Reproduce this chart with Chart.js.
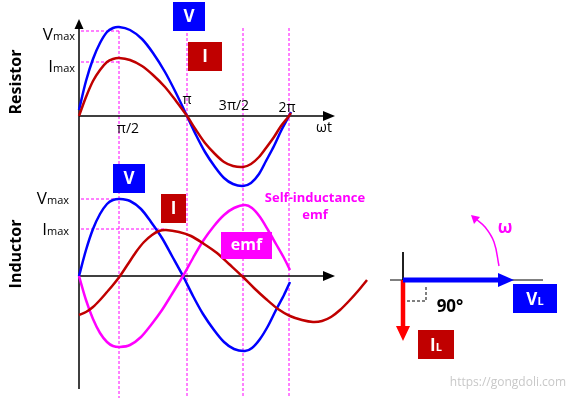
<!DOCTYPE html>
<html>
<head>
<meta charset="utf-8">
<script src="https://cdn.jsdelivr.net/npm/chart.js@4.4.1/dist/chart.umd.min.js"></script>
<style>
  html, body { margin: 0; padding: 0; background: #fff; overflow: hidden; }
  canvas { display: block; }
</style>
</head>
<body>
<canvas id="chart" width="567" height="398"></canvas>
<script>
// horizontal position along the ωt axis, and height above the axis line
const resistorX = [79, 86, 93, 100, 107, 113, 119, 130, 142, 153, 165, 176, 187, 196, 205, 215, 224, 233, 243, 251, 259, 266, 274, 281, 289, 291];
const resistorV = [6, 35, 57, 73, 84, 88, 89, 86, 77, 63, 44, 23, 0, -19, -36, -51, -62, -68, -70, -67, -58, -45, -30, -15, 0, 4];
const resistorI = [0, 19, 35, 46, 54, 57, 58, 56, 50, 41, 29, 15, 0, -14, -27, -38, -46, -50, -51, -48, -41, -32, -21, -10, 0, 3];

const inductorX = [79, 86, 93, 100, 107, 113, 120, 130, 141, 151, 162, 172, 183, 193, 203, 214, 224, 234, 245, 252, 260, 268, 276, 284, 290];
const inductorV = [0, 26, 47, 62, 72, 76, 77, 75, 67, 54, 38, 20, 0, -20, -38, -54, -66, -73, -75, -72, -63, -50, -34, -19, -6];
const inductorEmf = [0, -24, -43, -57, -66, -70, -71, -69, -61, -49, -34, -18, 0, 18, 35, 50, 61, 68, 71, 68, 59, 46, 32, 18, 6];

const inductorIX = [79, 86, 93, 100, 107, 113, 120, 128, 136, 144, 152, 159, 166, 179, 191, 204, 217, 229, 242, 254, 266, 278, 290, 302, 313, 322, 331, 340, 349, 358, 367];
const inductorI = [-39, -36, -31, -24, -16, -9, 0, 12, 24, 34, 41, 45, 46, 44, 40, 32, 23, 12, 0, -12, -23, -33, -40, -44, -46, -45, -41, -34, -25, -15, -4];

const phaseLabels = ['π/2', 'π', '3π/2', '2π'];
const phaseLineX = [119, 187, 243, 289];

const BLUE = '#0000ff';
const DARKRED = '#c00000';
const MAGENTA = '#ff00ff';
const FONT = "'Open Sans', 'Noto Sans', sans-serif";

function pts(xs, ys) {
  return xs.map((x, i) => ({ x: x, y: ys[i] }));
}

function wave(xs, ys, color, axis) {
  return {
    data: pts(xs, ys), yAxisID: axis, borderColor: color, borderWidth: 2.5,
    pointRadius: 0, showLine: true, tension: 0.3, order: 1
  };
}

function seg(points, color, width, dash, order) {
  return {
    data: points, yAxisID: 'y', borderColor: color, borderWidth: width,
    borderDash: dash || [], pointRadius: 0, showLine: true, tension: 0, order: order
  };
}

const datasets = [];

// dashed guide lines
phaseLineX.forEach((x, i) => {
  datasets.push(seg([{ x: x, y: i === 0 ? 31 : 28 }, { x: x, y: 398 }], MAGENTA, 1, [3, 2], 4));
});
datasets.push(seg([{ x: 81, y: 31 }, { x: 119, y: 31 }], MAGENTA, 1, [3, 2], 4));
datasets.push(seg([{ x: 81, y: 62 }, { x: 119, y: 62 }], MAGENTA, 1, [3, 2], 4));
datasets.push(seg([{ x: 81, y: 199 }, { x: 124, y: 199 }], MAGENTA, 1, [3, 2], 4));
datasets.push(seg([{ x: 81, y: 229 }, { x: 166, y: 229 }], MAGENTA, 1, [3, 2], 4));

// axes
datasets.push(seg([{ x: 79, y: 24 }, { x: 79, y: 389 }], '#000', 1.5, null, 3));
datasets.push(seg([{ x: 79, y: 116 }, { x: 326, y: 116 }], '#000', 1.5, null, 3));
datasets.push(seg([{ x: 79, y: 276 }, { x: 326, y: 276 }], '#000', 1.5, null, 3));

// waves
datasets.push(wave(resistorX, resistorI, DARKRED, 'yR'));
datasets.push(wave(resistorX, resistorV, BLUE, 'yR'));
datasets.push(wave(inductorIX, inductorI, DARKRED, 'yL'));
datasets.push(wave(inductorX, inductorEmf, MAGENTA, 'yL'));
datasets.push(wave(inductorX, inductorV, BLUE, 'yL'));

// phasor diagram
datasets.push(seg([{ x: 403, y: 252 }, { x: 403, y: 280 }], '#000', 1, null, 3));
datasets.push(seg([{ x: 390, y: 280 }, { x: 543, y: 280 }], '#000', 1, null, 3));
datasets.push(seg([{ x: 407, y: 301 }, { x: 426, y: 301 }, { x: 426, y: 286 }], '#000', 1, [3, 2], 3));
datasets.push(seg([{ x: 403, y: 280 }, { x: 500, y: 280 }], BLUE, 5, null, 1));
datasets.push(seg([{ x: 403, y: 280 }, { x: 403, y: 328 }], '#ff0000', 4.5, null, 1));
datasets.push(Object.assign(seg([{ x: 499, y: 266 }, { x: 494, y: 242 }, { x: 485, y: 227 }, { x: 476, y: 219 }], MAGENTA, 1.5, null, 1), { tension: 0.4 }));

const overlay = {
  id: 'overlay',
  afterDatasetsDraw(chart) {
    const ctx = chart.ctx;
    const X = v => chart.scales.x.getPixelForValue(v);
    const Y = v => chart.scales.y.getPixelForValue(v);

    function tri(a, b, c, color) {
      ctx.fillStyle = color;
      ctx.beginPath();
      ctx.moveTo(X(a[0]), Y(a[1]));
      ctx.lineTo(X(b[0]), Y(b[1]));
      ctx.lineTo(X(c[0]), Y(c[1]));
      ctx.closePath();
      ctx.fill();
    }
    function box(x0, y0, x1, y1, color) {
      ctx.fillStyle = color;
      ctx.fillRect(X(x0), Y(y0), X(x1) - X(x0), Y(y1) - Y(y0));
    }
    function text(str, x, y, font, color, align, base) {
      ctx.font = font;
      ctx.fillStyle = color;
      ctx.textAlign = align || 'center';
      ctx.textBaseline = base || 'middle';
      ctx.fillText(str, X(x), Y(y));
    }
    // big letter with small suffix, right aligned or centred
    function sub(big, small, x, y, bigFont, smallFont, color, align) {
      ctx.font = bigFont;
      const w1 = ctx.measureText(big).width;
      ctx.font = smallFont;
      const w2 = ctx.measureText(small).width;
      const left = align === 'right' ? X(x) - w1 - w2 : X(x) - (w1 + w2) / 2;
      ctx.fillStyle = color;
      ctx.textBaseline = 'alphabetic';
      ctx.textAlign = 'left';
      ctx.font = bigFont;
      ctx.fillText(big, left, Y(y));
      ctx.font = smallFont;
      ctx.fillText(small, left + w1, Y(y));
    }

    ctx.save();
    // axis arrowheads
    tri([79, 19], [74.5, 29], [83.5, 29], '#000');
    tri([335, 116], [323, 111], [323, 121], '#000');
    tri([335, 276], [323, 271], [323, 281], '#000');
    // phasor arrowheads
    tri([514, 280], [498, 273], [498, 287], BLUE);
    tri([403, 341], [396, 326], [410, 326], '#ff0000');
    tri([471, 215], [474, 224], [480, 217], MAGENTA);

    // panel titles
    ctx.save();
    ctx.translate(X(16), Y(82));
    ctx.rotate(-Math.PI / 2);
    ctx.font = 'bold 16px ' + FONT;
    ctx.fillStyle = '#000';
    ctx.textAlign = 'center';
    ctx.textBaseline = 'middle';
    ctx.fillText('Resistor', 0, 0);
    ctx.restore();
    ctx.save();
    ctx.translate(X(16), Y(254));
    ctx.rotate(-Math.PI / 2);
    ctx.font = 'bold 16px ' + FONT;
    ctx.fillStyle = '#000';
    ctx.textAlign = 'center';
    ctx.textBaseline = 'middle';
    ctx.fillText('Inductor', 0, 0);
    ctx.restore();

    // amplitude labels
    const big = '17px ' + FONT, small = '11px ' + FONT;
    sub('V', 'max', 75, 40, big, small, '#000', 'right');
    sub('I', 'max', 75, 72, big, small, '#000', 'right');
    sub('V', 'max', 69, 204, big, small, '#000', 'right');
    sub('I', 'max', 69, 235, big, small, '#000', 'right');

    // phase tick labels
    const tf = '14px ' + FONT;
    text(phaseLabels[0], 128, 129, tf, '#000');
    text(phaseLabels[1], 187, 100, tf, '#000');
    text(phaseLabels[2], 234, 106, tf, '#000');
    text(phaseLabels[3], 287, 108, tf, '#000');
    text('ωt', 324, 128, tf, '#000');

    // series tags
    const bf = 'bold 17px ' + FONT;
    box(173, 2, 205, 31, BLUE); text('V', 189, 17, bf, '#fff');
    box(188, 42, 222, 71, DARKRED); text('I', 205, 57, bf, '#fff');
    box(113, 164, 145, 193, BLUE); text('V', 129, 179, bf, '#fff');
    box(161, 194, 186, 223, DARKRED); text('I', 173.5, 209, bf, '#fff');
    box(221, 232, 272, 259, MAGENTA); text('emf', 246.5, 245, 'bold 16px ' + FONT, '#fff');
    text('Self-inductance', 315, 198, 'bold 13px ' + FONT, MAGENTA);
    text('emf', 315, 215, 'bold 13px ' + FONT, MAGENTA);

    // phasor labels
    box(513, 284, 557, 313, BLUE);
    sub('V', 'L', 535, 305, 'bold 17px ' + FONT, 'bold 11px ' + FONT, '#fff', 'center');
    box(418, 330, 454, 359, DARKRED);
    sub('I', 'L', 436, 351, 'bold 17px ' + FONT, 'bold 11px ' + FONT, '#fff', 'center');
    text('90°', 450, 307, 'bold 17px ' + FONT, '#000');
    text('ω', 505, 228, 'bold 17px ' + FONT, MAGENTA);

    text('https://gongdoli.com', 508, 383, '12px ' + FONT, '#c8c8c8');
    ctx.restore();
  }
};

new Chart(document.getElementById('chart'), {
  type: 'scatter',
  data: { datasets: datasets },
  options: {
    responsive: false,
    animation: false,
    layout: { padding: 0 },
    plugins: { legend: { display: false }, tooltip: { enabled: false } },
    scales: {
      x: { type: 'linear', min: 0, max: 567, display: false },
      y: { type: 'linear', min: 0, max: 398, reverse: true, display: false },
      yR: { type: 'linear', min: -282, max: 116, display: false },
      yL: { type: 'linear', min: -122, max: 276, display: false }
    }
  },
  plugins: [overlay]
});
</script>
</body>
</html>
